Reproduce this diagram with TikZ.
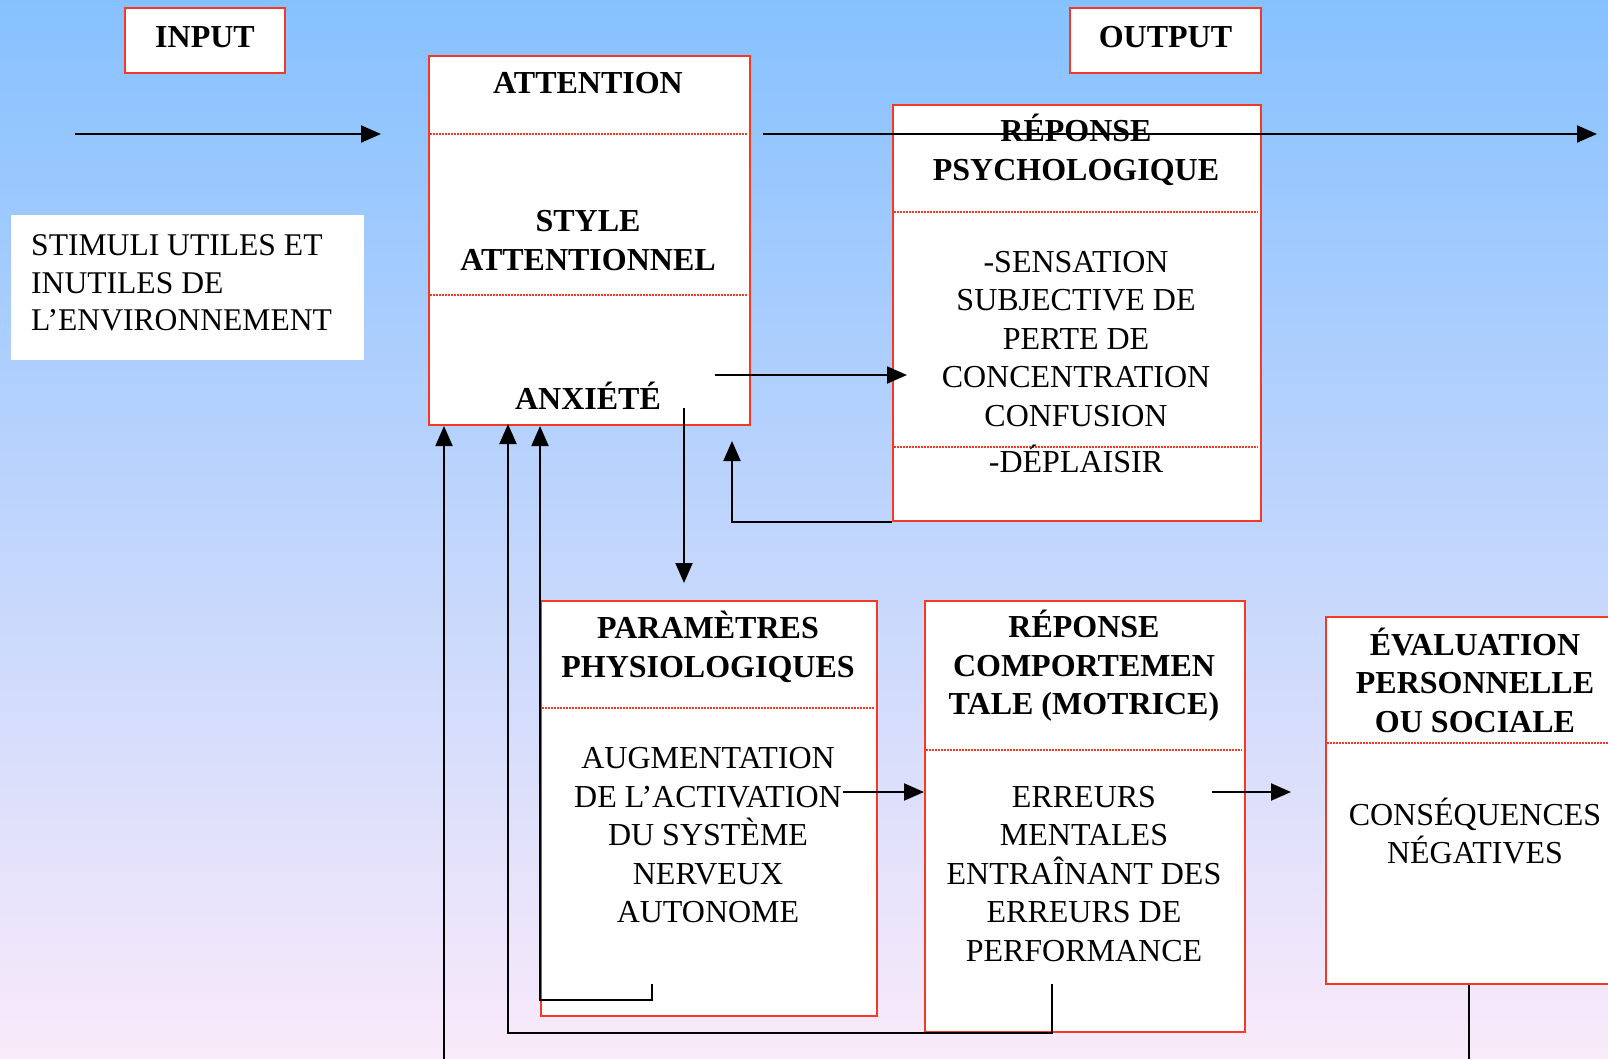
\documentclass[tikz,border=0pt]{standalone}
\usepackage{fontspec}
\setmainfont{Liberation Serif}
\usetikzlibrary{arrows.meta}
\definecolor{bgtop}{RGB}{134,193,255}
\definecolor{bgmid}{RGB}{196,218,242}
\definecolor{bgbot}{RGB}{250,234,250}
\definecolor{boxred}{RGB}{244,58,36}

\begin{document}
\begin{tikzpicture}[
    x=1pt, y=-1pt,
    box/.style={draw=boxred, line width=2pt, fill=white, anchor=north west, inner sep=0pt},
    title/.style={font=\bfseries\fontsize{32}{38.5}\selectfont, align=center, inner sep=0pt},
    body/.style={font=\fontsize{32}{38.5}\selectfont, align=center, inner sep=0pt},
    sep/.style={draw=boxred, line width=1.5pt, dash pattern=on 1.5pt off 1.5pt},
    arr/.style={line width=2pt, -{Triangle[length=20pt, width=17pt]}},
    link/.style={line width=2pt}
  ]
  \useasboundingbox (0,0) rectangle (1608,1059);
  \clip (0,0) rectangle (1608,1059);
  \shade[top color=bgtop, middle color=bgmid, bottom color=bgbot] (0,0) rectangle (1608,1059);

  \node[box, title, text depth=7pt, minimum width=160pt, minimum height=65pt] (input) at (124,7) {INPUT};
  \node[box, title, text depth=7pt, minimum width=191pt, minimum height=65pt] (output) at (1069,7) {OUTPUT};
  \node[fill=white, anchor=north west, minimum width=353pt, minimum height=145pt] (stimbox) at (11,215) {};
  \node[anchor=west, align=left, inner sep=0pt, font=\fontsize{31.6}{37.5}\selectfont] (stim) at (31,283)
    {STIMULI UTILES ET\\INUTILES DE\\L’ENVIRONNEMENT};

  \node[box, minimum width=321pt, minimum height=369pt] (att) at (428,55) {};
  \draw[sep] (430,134) -- (747,134);
  \draw[sep] (430,295) -- (747,295);
  \node[title] (attT) at (588,83) {ATTENTION};
  \node[title] (style) at (588,240.5) {STYLE\\ATTENTIONNEL};
  \node[title] (anx) at (588,396) {ANXIÉTÉ};

  \node[box, minimum width=368pt, minimum height=416pt] (psy) at (892,104) {};
  \draw[sep] (894,212) -- (1258,212);
  \draw[sep] (894,447) -- (1258,447);
  \node[title] (psyT) at (1076,150) {RÉPONSE\\PSYCHOLOGIQUE};
  \node[body] (psyB) at (1076,339) {-SENSATION\\SUBJECTIVE DE\\PERTE DE\\CONCENTRATION\\CONFUSION};
  \node[body] (depl) at (1076,459) {-DÉPLAISIR};

  \node[box, minimum width=336pt, minimum height=415pt] (phy) at (540,600) {};
  \draw[sep] (542,708) -- (874,708);
  \node[title] (phyT) at (708,647) {PARAMÈTRES\\PHYSIOLOGIQUES};
  \node[body] (phyB) at (708,835.5) {AUGMENTATION\\DE L’ACTIVATION\\DU SYSTÈME\\NERVEUX\\AUTONOME};

  \node[box, minimum width=320pt, minimum height=431pt] (comp) at (924,600) {};
  \draw[sep] (926,750) -- (1242,750);
  \node[title] (compT) at (1084,666) {RÉPONSE\\COMPORTEMEN\\TALE (MOTRICE)};
  \node[body] (compB) at (1084,874) {ERREURS\\MENTALES\\ENTRAÎNANT DES\\ERREURS DE\\PERFORMANCE};

  \node[box, minimum width=300pt, minimum height=367pt] (eval) at (1325,616) {};
  \draw[sep] (1327,743) -- (1623,743);
  \node[title] (evalT) at (1475,680) {ÉVALUATION\\PERSONNELLE\\OU SOCIALE};
  \node[body] (evalB) at (1475,831) {CONSÉQUENCES\\NÉGATIVES};

  \coordinate (inS) at (75,134);
  \coordinate (inE) at (381,134);
  \coordinate (outS) at (763,134);
  \coordinate (outE) at (1597,134);
  \coordinate (anxR) at (715,375);
  \coordinate (psyIn) at (907,375);
  \coordinate (fbE) at (732,441);
  \coordinate (anxD) at (684,408);
  \coordinate (phyIn) at (684,583);
  \coordinate (phyA) at (843,792);
  \coordinate (compA) at (1212,792);
  \coordinate (evalIn) at (1291,792);
  \coordinate (phyL) at (652,984);
  \coordinate (compL) at (1052,984);
  \coordinate (fb2) at (508,424);
  \coordinate (leftS) at (444,1059);
  \coordinate (evB) at (1469,1059);

  \draw[arr] (inS) -- (inE);
  \draw[arr] (outS) -- (outE);
  \draw[arr] (anxR) -- (psyIn);
  \draw[arr] (psy.south west) -| (fbE);
  \draw[arr] (anxD) -- (phyIn);
  \draw[arr] (phyA) -- (phyA -| comp.west);
  \draw[arr] (compA) -- (evalIn);
  \draw[arr] (phyL) -- ++(0,16) -| (att.south -| phy.west);
  \draw[arr] (compL) -- (compL |- comp.south) -| (fb2);
  \draw[arr] (leftS) -- (leftS |- att.south);
  \draw[link] (evB |- eval.south) -- (evB);
\end{tikzpicture}
\end{document}
